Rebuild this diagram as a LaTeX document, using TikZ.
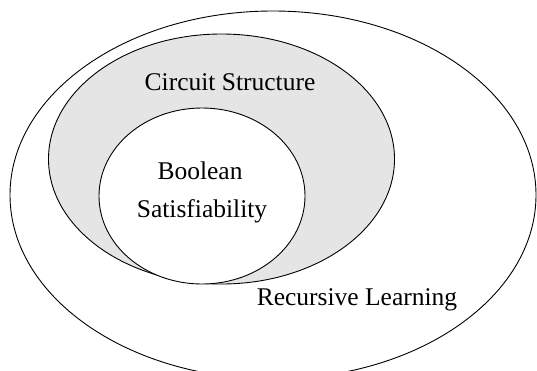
\documentclass[tikz,border=0pt]{standalone}
\usepackage{fontspec}
\setmainfont{Liberation Serif}
\begin{document}
\begin{tikzpicture}[x=1pt,y=-1pt,
  setline/.style={draw=black,line width=0.9pt},
  lbl/.style={font=\fontsize{25.5}{29}\selectfont,inner sep=0pt,align=center}]
\useasboundingbox (0,0) rectangle (537,370);
\begin{scope}
\clip (0,0) rectangle (537,370);
% outer set
\draw[setline] (273,195) ellipse [x radius=263,y radius=184];
% middle set, shaded
\draw[setline,fill=black!10] (221.5,159) ellipse [x radius=173,y radius=125];
% inner set
\draw[setline,fill=white] (202,196) ellipse [x radius=103,y radius=88];
\end{scope}
\node[lbl] (cs) at (230,82) {Circuit Structure};
\node[lbl,anchor=base] (bool) at (200,179) {Boolean};
\node[lbl,anchor=base] (sat) at (202,217) {Satisfiability};
\node[lbl,anchor=base] (rl) at (357,305) {Recursive Learning};
\end{tikzpicture}
\end{document}
